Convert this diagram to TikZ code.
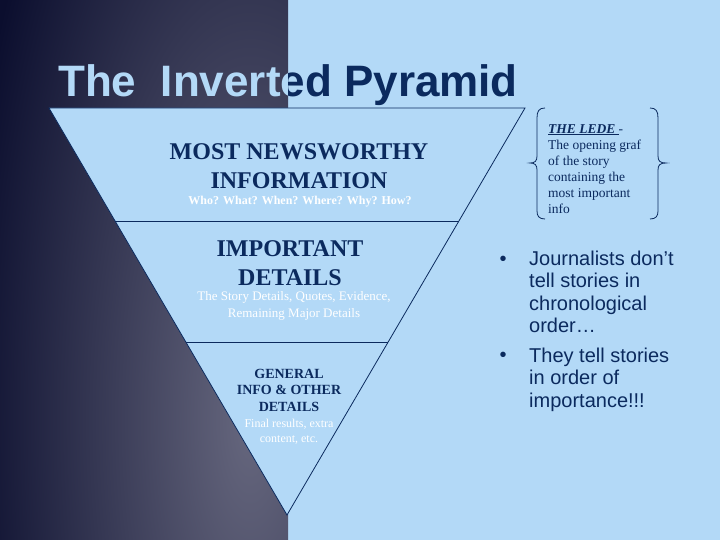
\documentclass[tikz,border=0pt]{standalone}
\usepackage{fontspec}
\setmainfont{Liberation Serif}
\setsansfont{Liberation Sans}
\usetikzlibrary{calc}

\definecolor{skyfill}{HTML}{B3D9F7}
\definecolor{inknavy}{HTML}{0B2A5E}
\definecolor{paneldark}{HTML}{0B0E2E}
\definecolor{panelhi}{HTML}{66677E}

\begin{document}
\begin{tikzpicture}[x=1pt, y=-1pt,
    headline/.style = {font=\sffamily\bfseries\fontsize{44}{52}\selectfont, inner sep=0pt, anchor=base west},
    tiername/.style = {font=\bfseries\fontsize{24}{29}\selectfont, text=inknavy, align=center, inner sep=0pt, anchor=north},
    tierhint/.style = {font=\fontsize{13}{17}\selectfont, text=white, align=center, inner sep=0pt, anchor=north},
    ledetext/.style = {font=\fontsize{13.5}{16}\selectfont, text=inknavy, align=left, inner sep=0pt, anchor=north west},
    point/.style = {font=\sffamily\fontsize{20}{22.5}\selectfont, text=inknavy, align=left, inner sep=0pt, anchor=north west},
    dot/.style = {font=\sffamily\fontsize{20}{22.5}\selectfont, text=inknavy, inner sep=0pt, anchor=base},
    divider/.style = {draw=inknavy, line width=0.8pt},
    ledebrace/.style = {draw=inknavy, line width=0.8pt}
]
\useasboundingbox (0,0) rectangle (720,540);

% Light slide background and the shaded left panel
\fill[skyfill] (0,0) rectangle (720,540);
\begin{scope}
  \clip (0,0) rectangle (288,540);
  \fill[paneldark] (0,0) rectangle (288,540);
  \shade[inner color=panelhi, outer color=paneldark] (250,420) ellipse (290 and 780);
\end{scope}

% Inverted pyramid with its two dividers
\coordinate (tl) at (49,108);
\coordinate (tr) at (525,108);
\coordinate (apex) at (287,515);
\filldraw[fill=skyfill, draw=inknavy, line width=0.8pt] (tl) -- (tr) -- (apex) -- cycle;
\draw[divider] ($(tl)!0.2776!(apex)$) -- ($(tr)!0.2776!(apex)$);
\draw[divider] ($(tl)!0.575!(apex)$) -- ($(tr)!0.575!(apex)$);

% Title, light over the dark panel and navy over the light side
\begin{scope}
  \clip (0,0) rectangle (288,540);
  \node[headline, text=skyfill] (titlelight) at (58,97) {The\ \ Inverted Pyramid};
\end{scope}
\begin{scope}
  \clip (288,0) rectangle (720,540);
  \node[headline, text=inknavy] (titledark) at (58,97) {The\ \ Inverted Pyramid};
\end{scope}

% Tier 1
\node[tiername] (most) at (299,143) {MOST NEWSWORTHY\\INFORMATION};
\node[tierhint, font=\bfseries\fontsize{12}{15}\selectfont, anchor=base] (mosthint) at (300,205) {Who? What? When? Where? Why? How?};

% Tier 2
\node[tiername] (important) at (290,240) {IMPORTANT\\DETAILS};
\node[tierhint] (importanthint) at (294,291) {The Story Details, Quotes, Evidence,\\Remaining Major Details};

% Tier 3
\node[tiername, font=\bfseries\fontsize{14}{16.5}\selectfont] (general) at (289,369) {GENERAL\\INFO \& OTHER\\DETAILS};
\node[tierhint, font=\fontsize{12}{15}\selectfont] (generalhint) at (289,419) {Final results, extra\\content, etc.};

% The lede between two braces
\node[ledetext] (lede) at (548,124) {\textbf{\textit{\underline{THE LEDE\ }}}-\\The opening graf\\of the story\\containing the\\most important\\info};
\draw[ledebrace] (545,108) .. controls (539,108) and (537,111) .. (537,118) -- (537,156)
  .. controls (537,161) and (535,163) .. (530,163) .. controls (535,163) and (537,165) .. (537,170)
  -- (537,211) .. controls (537,216) and (539,219) .. (545,219);
\draw[ledebrace] (650,108) .. controls (656,108) and (658,111) .. (658,118) -- (658,156)
  .. controls (658,161) and (660,163) .. (666,163) .. controls (660,163) and (658,165) .. (658,170)
  -- (658,211) .. controls (658,216) and (656,219) .. (650,219);

% Bullet points
\node[dot] (dot1) at (503,265) {•};
\node[point] (point1) at (529,250.5) {Journalists don’t\\tell stories in\\chronological\\order…};
\node[dot] (dot2) at (503,361.7) {•};
\node[point] (point2) at (529,347.4) {They tell stories\\in order of\\importance!!!};

\end{tikzpicture}
\end{document}
